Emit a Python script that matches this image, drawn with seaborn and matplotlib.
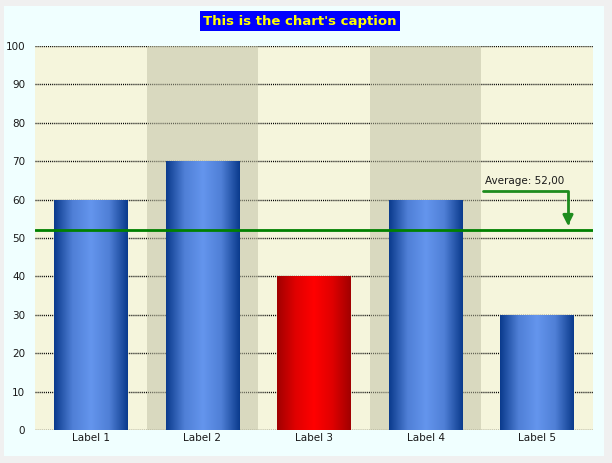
import numpy as np
import pandas as pd
import matplotlib
matplotlib.use("Agg")
import matplotlib.pyplot as plt
import matplotlib.patches as mpatches
from matplotlib.colors import LinearSegmentedColormap
import seaborn as sns

# data
labels = ["Label 1", "Label 2", "Label 3", "Label 4", "Label 5"]
values = [60, 70, 40, 60, 30]
highlight = [False, False, True, False, False]
average = np.mean(values)

df = pd.DataFrame({"label": labels, "value": values})

sns.set_theme(style="white")
plt.rcParams["font.family"] = ["DejaVu Sans"]

fig = plt.figure(figsize=(6.12, 4.63), dpi=100)
fig.patch.set_facecolor("#F0F0F0")
# inner light panel
fig.patches.append(mpatches.Rectangle((4 / 612, 1 - 456 / 463), 600 / 612, 450 / 463,
                                      transform=fig.transFigure, facecolor="#F0FFFF",
                                      edgecolor="none", zorder=-10))
# caption box
fig.patches.append(mpatches.Rectangle((200 / 612, 1 - 31 / 463), 200 / 612, 20 / 463,
                                      transform=fig.transFigure, facecolor="#0000FF",
                                      edgecolor="none", zorder=-5))

ax = fig.add_axes([35 / 612, 1 - 430 / 463, 558 / 612, 384 / 463])
ax.set_facecolor("#F5F5DC")

sns.barplot(data=df, x="label", y="value", ax=ax, width=0.66,
            color="#3060C0", saturation=1, zorder=2)
bars = list(ax.containers[0])

# grid lines (dotted)
for y in range(0, 101, 10):
    ax.axhline(y, color="black", linestyle=(0, (0.75, 0.75)), linewidth=1, zorder=0.5)

# alternating bands
for i in range(len(labels)):
    if i % 2 == 1:
        ax.axvspan(i - 0.5, i + 0.5, color="#BFBFA4", alpha=0.5, lw=0, zorder=1)

# cylinder gradient on bars
blue = LinearSegmentedColormap.from_list("b", ["#0A3A8C", "#4F7FD6", "#6495ED", "#4F7FD6", "#0A3A8C"])
red = LinearSegmentedColormap.from_list("r", ["#A00000", "#E00000", "#FF0000", "#E00000", "#A00000"])
grad = np.linspace(0, 1, 256).reshape(1, -1)
for patch, hl in zip(bars, highlight):
    x0, y0 = patch.get_x(), patch.get_y()
    w, h = patch.get_width(), patch.get_height()
    patch.set_facecolor("none")
    patch.set_edgecolor("none")
    im = ax.imshow(grad, cmap=red if hl else blue, aspect="auto",
                   extent=[x0, x0 + w, y0, y0 + h], zorder=2.5,
                   interpolation="bilinear")
    im.set_clip_path(patch)

ax.set_xlim(-0.5, len(labels) - 0.5)
ax.set_ylim(0, 100)

# average line + annotation
ax.axhline(average, color="#008000", linewidth=2, zorder=3)
ax.text(3.53, 63.6, f"Average: {average:.2f}".replace(".", ","), fontsize=7.5,
        color="#1A1A1A", va="bottom", ha="left", zorder=4)
ax.annotate("", xy=(4.276, 53.2), xytext=(3.516, 62.2),
            arrowprops=dict(arrowstyle="-|>,head_length=0.5,head_width=0.25",
                            color="#1E8C1E", lw=2, shrinkA=0, shrinkB=0,
                            connectionstyle="angle,angleA=0,angleB=90,rad=0"),
            zorder=4)

ax.set_yticks(range(0, 101, 10))
ax.set_xlabel("")
ax.set_ylabel("")
ax.tick_params(axis="both", length=0, labelsize=7.5, labelcolor="#1A1A1A")
ax.tick_params(axis="y", pad=7)
ax.tick_params(axis="x", pad=2)
for s in ax.spines.values():
    s.set_visible(False)

fig.text(300 / 612, 1 - 21 / 463, "This is the chart's caption", ha="center", va="center",
         fontsize=9.5, fontweight="bold", color="#FFFF00")

fig.savefig("out.png", dpi=100)
